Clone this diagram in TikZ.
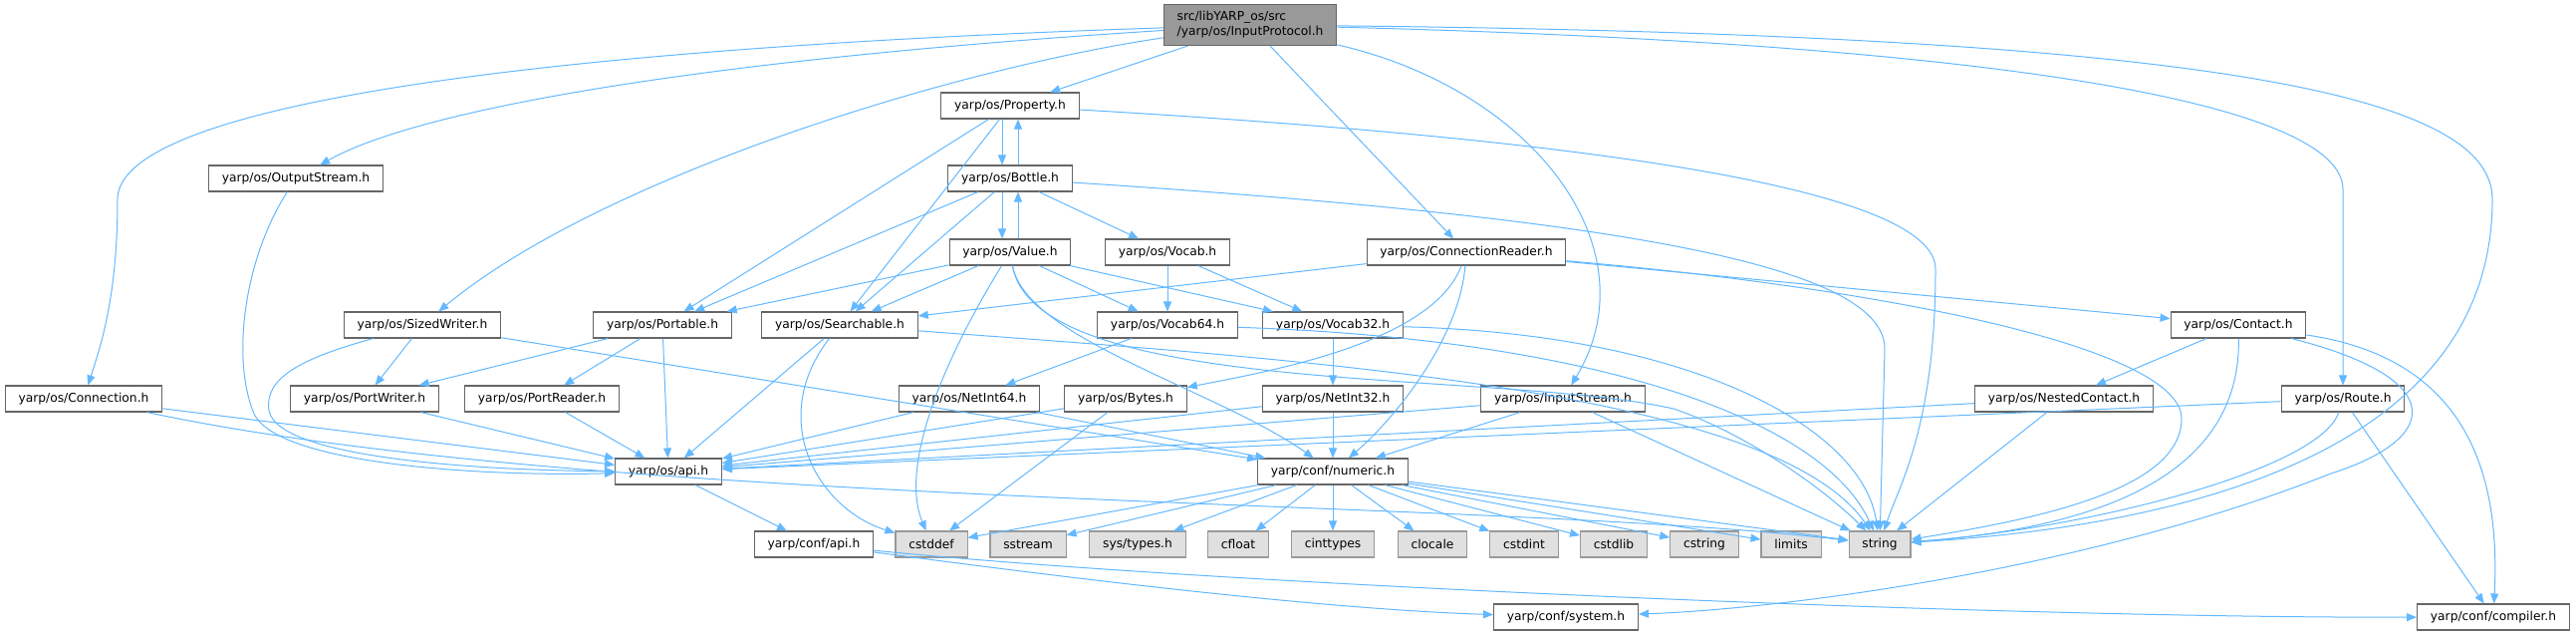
\documentclass[tikz,border=0pt]{standalone}
\usepackage{fontspec}
\setmainfont{DejaVu Sans}
\usetikzlibrary{arrows.meta}

\definecolor{edgeblue}{HTML}{63B8FF}
\definecolor{boxline}{HTML}{666666}
\definecolor{sysline}{HTML}{999999}
\definecolor{sysfill}{HTML}{E0E0E0}
\definecolor{rootfill}{HTML}{999999}

\tikzset{
  hdr/.style={draw=boxline,fill=white,line width=0.8pt,inner xsep=10pt,inner ysep=0pt,
    minimum height=19.5pt,font=\fontsize{9.2}{11.2}\selectfont},
  syshdr/.style={hdr,draw=sysline,fill=sysfill},
  roothdr/.style={hdr,fill=rootfill,align=left,minimum height=30.75pt},
  link/.style={draw=edgeblue,line width=0.75pt,-{Triangle[length=7.5pt,width=6pt]}}
}

\begin{document}
\begin{tikzpicture}[x=0.75pt,y=-0.75pt]

      \useasboundingbox (0,0) rectangle (2586,637);

      \begin{scope}[every node/.style={hdr}]
        \node[roothdr] (root) at (1255,25) {src/libYARP\_os/src\\/yarp/os/InputProtocol.h};
        \node (prop)     at (1014,106) {yarp/os/Property.h};
        \node (ostream)  at (297,179)  {yarp/os/OutputStream.h};
        \node (bottle)   at (1014,179) {yarp/os/Bottle.h};
        \node (value)    at (1014,253) {yarp/os/Value.h};
        \node (vocab)    at (1172,253) {yarp/os/Vocab.h};
        \node (creader)  at (1472,253) {yarp/os/ConnectionReader.h};
        \node (swriter)  at (424,326)  {yarp/os/SizedWriter.h};
        \node (portable) at (665,326)  {yarp/os/Portable.h};
        \node (search)   at (843,326)  {yarp/os/Searchable.h};
        \node (vocab64)  at (1172,326) {yarp/os/Vocab64.h};
        \node (vocab32)  at (1338,326) {yarp/os/Vocab32.h};
        \node (contact)  at (2247,326) {yarp/os/Contact.h};
        \node (conn)     at (84,400)   {yarp/os/Connection.h};
        \node (pwriter)  at (366,400)  {yarp/os/PortWriter.h};
        \node (preader)  at (544,400)  {yarp/os/PortReader.h};
        \node (netint64) at (973,400)  {yarp/os/NetInt64.h};
        \node (bytes)    at (1130,400) {yarp/os/Bytes.h};
        \node (netint32) at (1338,400) {yarp/os/NetInt32.h};
        \node (istream)  at (1569,400) {yarp/os/InputStream.h};
        \node (nested)   at (2072,400) {yarp/os/NestedContact.h};
        \node (route)    at (2352,400) {yarp/os/Route.h};
        \node (osapi)    at (671,473)  {yarp/os/api.h};
        \node (numeric)  at (1338,473) {yarp/conf/numeric.h};
        \node (confapi)  at (817,546)  {yarp/conf/api.h};
        \node (system)   at (1572,619) {yarp/conf/system.h};
        \node (compiler) at (2503,619) {yarp/conf/compiler.h};
      \end{scope}

      \begin{scope}[every node/.style={syshdr}]
        \node (cstddef)   at (935,546)  {cstddef};
        \node (sstream)   at (1032,546) {sstream};
        \node (systypes)  at (1142,546) {sys/types.h};
        \node (cfloat)    at (1243,546) {cfloat};
        \node (cinttypes) at (1338,546) {cinttypes};
        \node (clocale)   at (1438,546) {clocale};
        \node (cstdint)   at (1530,546) {cstdint};
        \node (cstdlib)   at (1620,546) {cstdlib};
        \node (cstring)   at (1711,546) {cstring};
        \node (limits)    at (1798,546) {limits};
        \node (string)    at (1887,546) {string};
      \end{scope}

      \begin{scope}[every edge/.style={link}]
        \path (root)  edge (prop);
        \path (root)  edge (creader);
        \path (prop)  edge (portable);
        \path (prop)  edge (search);
        \path ([xshift=-6pt]prop.south)  edge ([xshift=-6pt]bottle.north);
        \path ([xshift=6pt]bottle.north) edge ([xshift=6pt]prop.south);
        \path ([xshift=-6pt]bottle.south) edge ([xshift=-6pt]value.north);
        \path ([xshift=6pt]value.north)   edge ([xshift=6pt]bottle.south);
        \path (bottle) edge (vocab);
        \path (bottle) edge (portable);
        \path (bottle) edge (search);
        \path (value) edge (portable);
        \path (value) edge (search);
        \path (value) edge (vocab64);
        \path (value) edge (vocab32);
        \path (vocab) edge (vocab64);
        \path (vocab) edge (vocab32);
        \path (creader) edge (search);
        \path (creader) edge (contact);
        \path (swriter) edge (pwriter);
        \path (swriter) edge (numeric);
        \path (portable) edge (pwriter);
        \path (portable) edge (preader);
        \path (portable) edge (osapi);
        \path (search) edge (osapi);
        \path (vocab64) edge (netint64);
        \path (vocab32) edge (netint32);
        \path (contact) edge (nested);
        \path (conn) edge (osapi);
        \path (pwriter) edge (osapi);
        \path (preader) edge (osapi);
        \path (netint64) edge (osapi);
        \path (netint64) edge (numeric);
        \path (bytes) edge (osapi);
        \path (bytes) edge (cstddef);
        \path (netint32) edge (osapi);
        \path (netint32) edge (numeric);
        \path (istream) edge (osapi);
        \path (istream) edge (numeric);
        \path (istream) edge (string);
        \path (nested) edge (osapi);
        \path (nested) edge (string);
        \path (route) edge (osapi);
        \path (route) edge (compiler);
        \path (osapi) edge (confapi);
        \foreach \sysname in {cstddef,sstream,systypes,cfloat,cinttypes,clocale,cstdint,cstdlib,cstring,limits,string}
          \path (numeric) edge (\sysname);
      \end{scope}

      % long routed links
      \draw[link] (root) .. controls (500,50) and (118,110) .. (118,200) .. controls (118,300) and (100,350) .. (conn);
      \draw[link] (root) .. controls (700,60) and (420,110) .. (ostream);
      \draw[link] (root) .. controls (950,70) and (600,180) .. (swriter);
      \draw[link] (root) .. controls (1540,90) and (1660,250) .. (istream);
      \draw[link] (root) .. controls (2050,45) and (2352,110) .. (2352,190) -- (route);
      \draw[link] (root) .. controls (2250,35) and (2502,100) .. (2502,200) .. controls (2502,470) and (2150,530) .. (string);
      \draw[link] (prop) .. controls (1600,140) and (1943,190) .. (1943,270) .. controls (1943,430) and (1905,490) .. (string);
      \draw[link] (bottle) .. controls (1650,220) and (1892,270) .. (1892,350) -- (string);
      \draw[link] (creader) .. controls (1900,290) and (2190,350) .. (2190,420) .. controls (2190,490) and (2050,520) .. (string);
      \draw[link] (value) .. controls (1040,400) and (1500,370) .. (1680,410) .. controls (1740,430) and (1820,480) .. (string);
      \draw[link] (search) .. controls (1300,360) and (1780,390) .. (string);
      \draw[link] (vocab64) .. controls (1600,340) and (1830,420) .. (string);
      \draw[link] (vocab32) .. controls (1700,335) and (1870,430) .. (string);
      \draw[link] (conn) .. controls (600,510) and (1500,500) .. (string);
      \draw[link] (contact) .. controls (2250,480) and (2100,530) .. (string);
      \draw[link] (route) .. controls (2330,470) and (2100,530) .. (string);
      \draw[link] (contact) .. controls (2460,380) and (2450,440) .. (2340,475) .. controls (2100,570) and (1800,610) .. (system);
      \draw[link] (contact) .. controls (2480,360) and (2510,480) .. (compiler);
      \draw[link] (confapi) .. controls (1000,570) and (1300,610) .. (system);
      \draw[link] (confapi) .. controls (1200,585) and (2000,620) .. (compiler);
      \draw[link] (swriter) .. controls (300,360) and (265,380) .. (270,412) .. controls (280,462) and (500,472) .. (osapi);
      \draw[link] (ostream) .. controls (245,260) and (232,360) .. (255,415) .. controls (280,468) and (500,478) .. (osapi);
      \draw[link] (search) .. controls (770,420) and (820,510) .. (cstddef);
      \draw[link] (value) .. controls (960,340) and (900,460) .. (cstddef);
      \draw[link] (value) .. controls (1030,340) and (1220,390) .. (numeric);
      \draw[link] (creader) .. controls (1440,340) and (1290,370) .. (bytes);
      \draw[link] (creader) .. controls (1465,340) and (1400,420) .. (numeric);

    \end{tikzpicture}
\end{document}
